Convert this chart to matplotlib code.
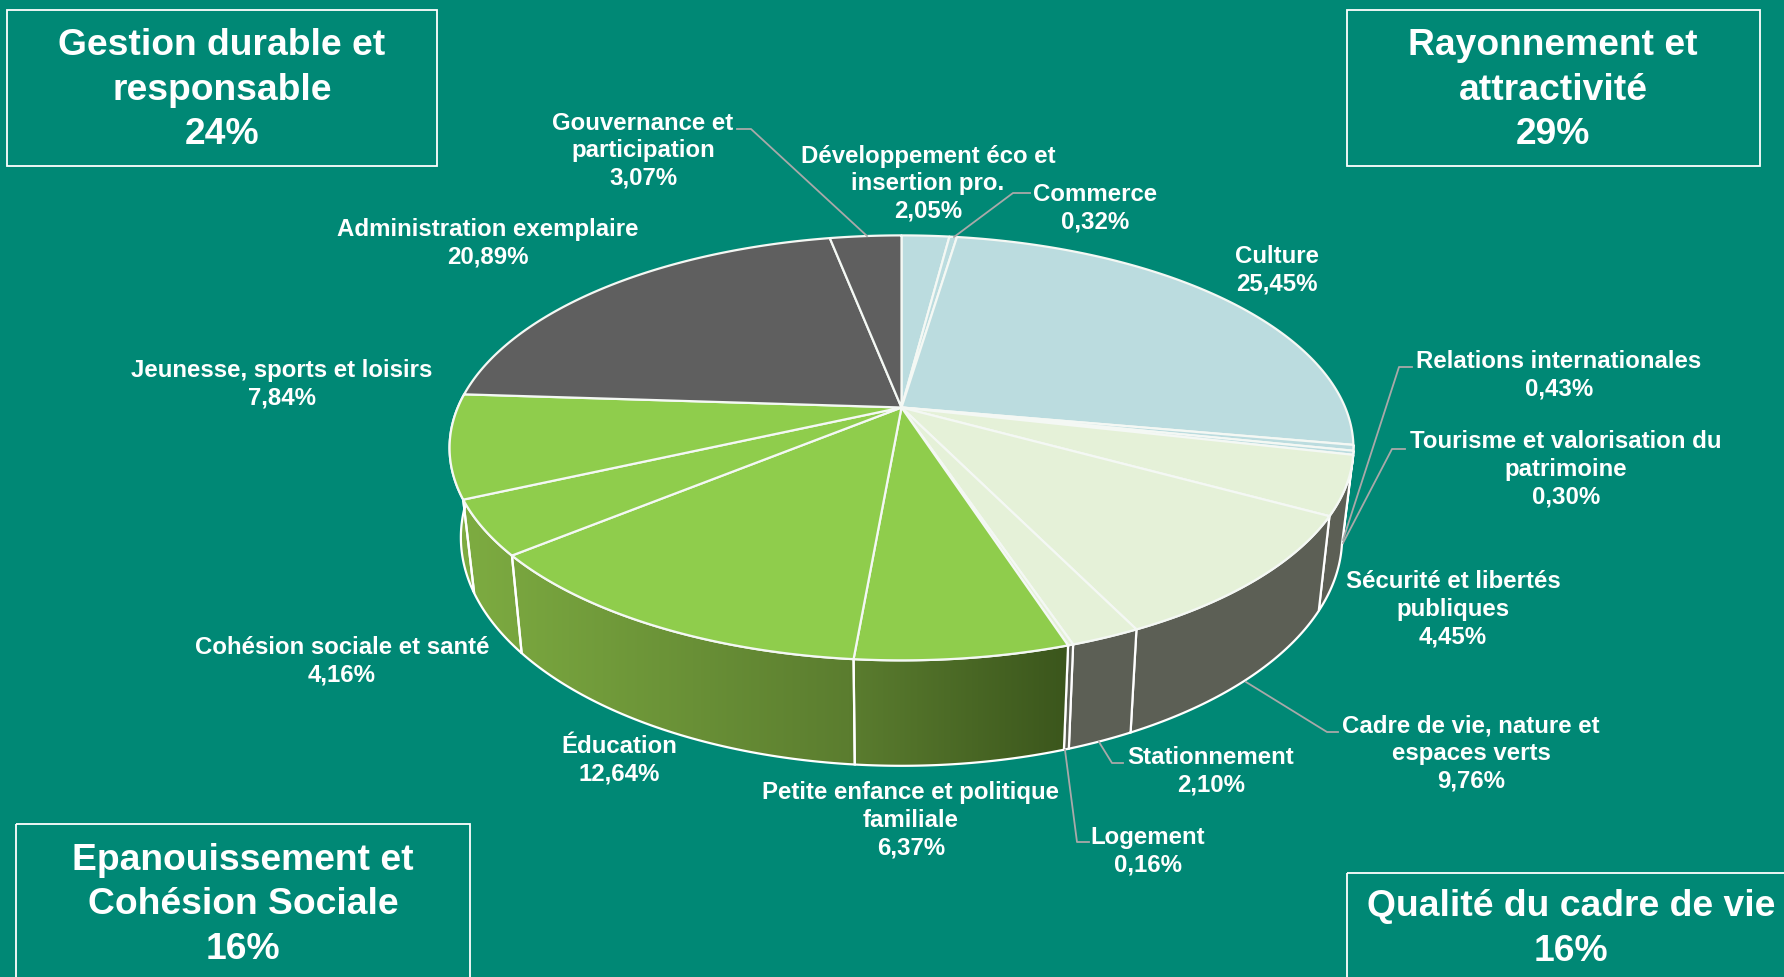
import numpy as np
import matplotlib
matplotlib.use('Agg')
import matplotlib.pyplot as plt
from matplotlib.colors import LinearSegmentedColormap
from matplotlib.patches import Polygon, Rectangle

plt.rcParams['font.family'] = ['Liberation Sans', 'DejaVu Sans']
plt.rcParams['font.weight'] = 'bold'

# Valeurs du graphique, dans le sens horaire depuis le haut
categories = ['Développement éco et\ninsertion pro.', 'Commerce', 'Culture',
              'Relations internationales', 'Tourisme et valorisation du\npatrimoine',
              'Sécurité et libertés\npubliques', 'Cadre de vie, nature et\nespaces verts',
              'Stationnement', 'Logement', 'Petite enfance et politique\nfamiliale',
              'Éducation', 'Cohésion sociale et santé', 'Jeunesse, sports et loisirs',
              'Administration exemplaire', 'Gouvernance et\nparticipation']
valeurs = [2.05, 0.32, 25.45, 0.43, 0.30, 4.45, 9.76, 2.10, 0.16, 6.37, 12.64, 4.16, 7.84, 20.89, 3.07]
groupes = [0, 0, 0, 0, 0, 1, 1, 1, 1, 2, 2, 2, 2, 3, 3]

encadres = ['Gestion durable et\nresponsable\n24%', 'Rayonnement et\nattractivité\n29%',
            'Epanouissement et\nCohésion Sociale\n16%', 'Qualité du cadre de vie\n16%']

FOND = '#008875'
COUL_DESSUS = ['#bbdcdf', '#e5f1d8', '#8fcd4c', '#5f5f5f']
COUL_COTE = '#5c5f55'

# Position des etiquettes (pixels)
pos_labels = [(928, 182), (1095, 207), (1277, 269), (1559, 374), (1566, 468), (1453, 608),
              (1471, 752), (1211, 770), (1148, 850), (911, 819), (619, 759), (342, 660),
              (282, 383), (488, 242), (643, 149)]

# Lignes de rappel (pixels)
rappels = [[(737, 129), (751, 129), (867, 236)],
           [(1030, 193), (1013, 193), (954, 237)],
           [(1412, 367), (1399, 367), (1343, 540)],
           [(1405, 449), (1392, 449), (1343, 543)],
           [(1338, 732), (1327, 732), (1246, 682)],
           [(1123, 763), (1112, 763), (1099, 742)],
           [(1089, 842), (1077, 842), (1065, 750)]]

# Encadres : x0, y0, x1, y1, centre du texte
boites = [(7, 10, 437, 166, 222, 90), (1347, 10, 1760, 166, 1553, 90),
          (16, 824, 470, 990, 243, 905), (1347, 873, 1800, 990, 1571, 929)]

# Perspective du camembert
CX, CY = 901.5, 407.5
R, B, K = 443.7, 204.8, 0.19
ECH_X, ECH_Y, PROF = 0.975, 1.075, 86.5


def dessus(t):
    x, y = np.sin(t), np.cos(t)
    d = 1 + K * y
    return CX + R * x / d, CY - B * y / d


def dessous(t):
    x, y = dessus(t)
    return CX + ECH_X * (x - CX), CY + ECH_Y * (y - CY) + PROF


fig = plt.figure(figsize=(17.84, 9.77), dpi=100, facecolor=FOND)
ax = fig.add_axes([0, 0, 1, 1])
ax.set_xlim(0, 1784)
ax.set_ylim(977, 0)
ax.axis('off')

cumul = np.concatenate([[0], np.cumsum(valeurs)]) / sum(valeurs) * 2 * np.pi
degrade = LinearSegmentedColormap.from_list('vert', [(0, '#7fae42'), (0.65, '#5b7d2f'), (1, '#3b561c')])

# Cotes du camembert, seulement la partie de devant
for i in range(3, len(valeurs) - 2):
    t = np.linspace(cumul[i], cumul[i + 1], 60)
    xh, yh = dessus(t)
    xb, yb = dessous(t)
    pts = np.column_stack([np.r_[xh, xb[::-1]], np.r_[yh, yb[::-1]]])
    if groupes[i] == 2:
        poly = Polygon(pts, closed=True, facecolor='none', edgecolor='white', lw=1.6, zorder=3)
        ax.add_patch(poly)
        im = ax.imshow(np.linspace(0, 1, 256)[None, :], cmap=degrade, aspect='auto',
                       extent=(445, 1068, 800, 400), zorder=2)
        im.set_clip_path(poly)
    else:
        ax.add_patch(Polygon(pts, closed=True, facecolor=COUL_COTE, edgecolor='white', lw=1.6, zorder=2))

# Dessus du camembert
for i in range(len(valeurs)):
    t = np.linspace(cumul[i], cumul[i + 1], 120)
    x, y = dessus(t)
    pts = np.column_stack([np.r_[CX, x], np.r_[CY, y]])
    ax.add_patch(Polygon(pts, closed=True, facecolor=COUL_DESSUS[groupes[i]],
                         edgecolor='#f4f8f4', lw=1.6, joinstyle='round', zorder=4))

ax.set_xlim(0, 1784)
ax.set_ylim(977, 0)

for pts in rappels:
    ax.plot([p[0] for p in pts], [p[1] for p in pts], color='#a9a9a9', lw=1.3, zorder=5)

for nom, v, (x, y) in zip(categories, valeurs, pos_labels):
    txt = nom + '\n' + f'{v:.2f}'.replace('.', ',') + '%'
    ax.text(x, y + 1.5, txt, color='white', fontsize=17.3, ha='center', va='center',
            ma='center', linespacing=1.25, zorder=6)

for txt, (x0, y0, x1, y1, xt, yt) in zip(encadres, boites):
    ax.add_patch(Rectangle((x0, y0), x1 - x0, y1 - y0, facecolor='none', edgecolor='white',
                           lw=1.3, zorder=1))
    ax.text(xt, yt, txt, color='white', fontsize=26.8, ha='center', va='center',
            ma='center', linespacing=1.36, zorder=6)

fig.savefig('out.png', dpi=100, facecolor=FOND)
